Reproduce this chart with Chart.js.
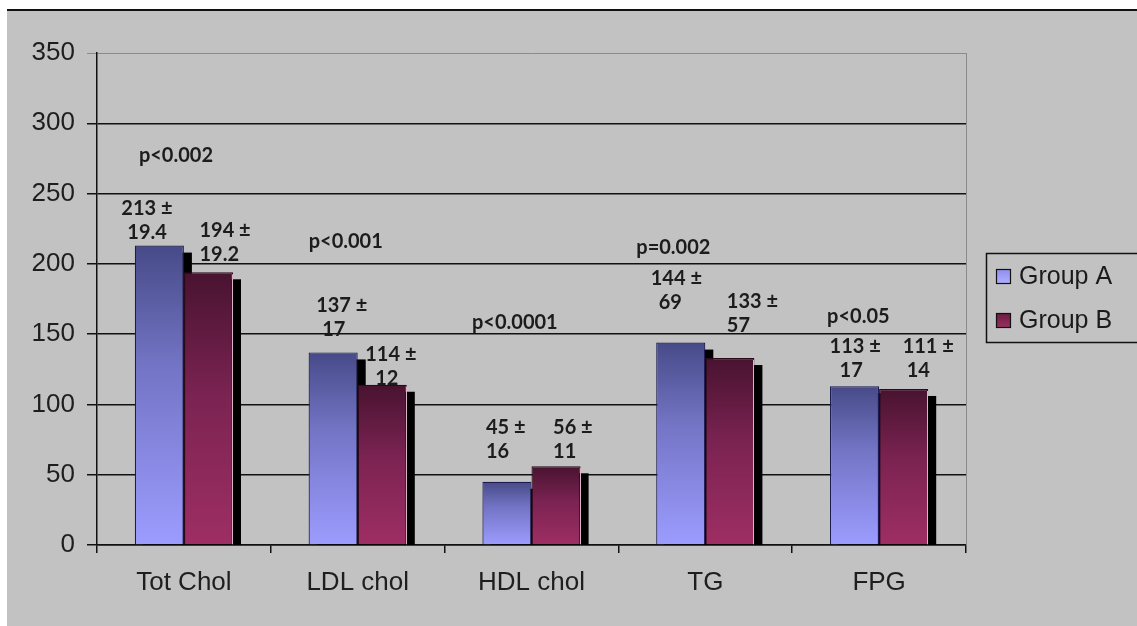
<!DOCTYPE html>
<html><head><meta charset="utf-8">
<script src="https://cdn.jsdelivr.net/npm/chart.js@4/dist/chart.umd.min.js"></script>
<style>html,body{margin:0;padding:0;background:#fff;}canvas{display:block;}</style>
</head><body>
<canvas id="c" width="1137" height="626"></canvas>
<script>
// ---- data ----
const categories = ["Tot Chol", "LDL chol", "HDL chol", "TG", "FPG"];
const seriesNames = ["Group A", "Group B"];
const groupA = [213, 137, 45, 144, 113];
const groupB = [194, 114, 56, 133, 111];
const sdA = ["19.4", "17", "16", "69", "17"];
const sdB = ["19.2", "12", "11", "57", "14"];
const pValues = ["p<0.002", "p<0.001", "p<0.0001", "p=0.002", "p<0.05"];
const yTicks = [0, 50, 100, 150, 200, 250, 300, 350];

// ---- annotation layout (x offset in px from bar / category centre, y in axis units) ----
const layoutA = [{dx:-38,v:239.7,ind:6},{dx:-17,v:170,ind:6},{dx:-21,v:83.9,ind:0},{dx:-30,v:189.2,ind:8},{dx:-25,v:140.9,ind:10}];
const layoutB = [{dx:-9,v:223.4,ind:0},{dx:-17,v:135.2,ind:10},{dx:-3,v:83.9,ind:0},{dx:-3,v:172.9,ind:0},{dx:-1,v:140.9,ind:4}];
const layoutP = [{dx:-45,v:276.7},{dx:-49,v:215.6},{dx:-59.5,v:158.6},{dx:-69,v:211.3},{dx:-52,v:162.2}];

const gradStops = [
  [[0,'#474a88'],[0.4,'#7374c4'],[1,'#9c9cff']],
  [[0,'#481330'],[0.45,'#7b2352'],[1,'#9e2e63']]
];
function barGradient(ctx, di){
  const chart = ctx.chart;
  const ys = chart.scales && chart.scales.y;
  if (!ys || ctx.type !== 'data') return gradStops[di][2][1];
  const top = ys.getPixelForValue(ctx.raw), base = ys.getPixelForValue(0);
  if (!isFinite(top) || !isFinite(base) || top === base) return gradStops[di][2][1];
  const g = chart.ctx.createLinearGradient(0, top, 0, base);
  gradStops[di].forEach(s => g.addColorStop(s[0], s[1]));
  return g;
}

const framePlugin = {
  id: 'frame',
  beforeDraw(chart){
    const c = chart.ctx;
    c.save();
    c.fillStyle = '#fff'; c.fillRect(0,0,chart.width,chart.height);
    c.fillStyle = '#c2c2c2'; c.fillRect(7,11,chart.width-7,chart.height-11);
    c.fillStyle = '#111'; c.fillRect(7,9,chart.width-7,2);
    c.restore();
  },
  beforeDatasetsDraw(chart){
    const c = chart.ctx, a = chart.chartArea;
    c.save();
    c.strokeStyle = '#8a8a8a'; c.lineWidth = 1;
    c.beginPath(); c.moveTo(Math.round(a.right)+0.5, a.top); c.lineTo(Math.round(a.right)+0.5, a.bottom); c.stroke();
    // bar shadows
    const base = chart.scales.y.getPixelForValue(0);
    c.fillStyle = '#000';
    [0,1].forEach(di => {
      chart.getDatasetMeta(di).data.forEach(bar => {
        const l = bar.x - bar.width/2 + 8, t = bar.y + 7;
        c.fillRect(l, t, bar.width, base - t);
      });
    });
    c.restore();
  },
  afterDatasetsDraw(chart){
    const c = chart.ctx, ys = chart.scales.y, xs = chart.scales.x;
    const m0 = chart.getDatasetMeta(0), m1 = chart.getDatasetMeta(1);
    c.save();
    // light right edge on Group B bars
    c.strokeStyle = '#d9b3c6'; c.lineWidth = 1;
    m1.data.forEach(b => {
      const r = Math.round(b.x + b.width/2) - 0.5;
      c.beginPath(); c.moveTo(r, b.y + 2); c.lineTo(r, b.base); c.stroke();
    });
    c.font = 'bold 20px Lato';
    c.fillStyle = '#1c1c1c'; c.textAlign = 'left'; c.textBaseline = 'middle';
    categories.forEach((cat, i) => {
      let L = layoutA[i], b = m0.data[i];
      let x = b.x + L.dx, y = ys.getPixelForValue(L.v);
      c.fillText(groupA[i] + ' \u00b1', x, y);
      c.fillText(sdA[i], x + L.ind, y + 24);
      L = layoutB[i]; b = m1.data[i];
      x = b.x + L.dx; y = ys.getPixelForValue(L.v);
      c.fillText(groupB[i] + ' \u00b1', x, y);
      c.fillText(sdB[i], x + L.ind, y + 24);
      L = layoutP[i];
      c.fillText(pValues[i], xs.getPixelForValue(i) + L.dx, ys.getPixelForValue(L.v));
    });
    c.restore();
  },
  afterDraw(chart){
    const c = chart.ctx;
    c.save();
    c.strokeStyle = '#111'; c.lineWidth = 1.5;
    c.strokeRect(986.5, 253.5, 180, 89);
    c.font = '25px "Liberation Sans", Arial, sans-serif';
    c.textBaseline = 'middle'; c.textAlign = 'left';
    const rows = [276, 320];
    seriesNames.forEach((n, i) => {
      const y = rows[i];
      const g = c.createLinearGradient(0, y-7, 0, y+8);
      if (i === 0) { g.addColorStop(0, '#8e8ef0'); g.addColorStop(1, '#b0b0ff'); }
      else { g.addColorStop(0, '#6a1d42'); g.addColorStop(1, '#9a3060'); }
      c.fillStyle = g;
      c.fillRect(996, y-7, 15, 15);
      c.strokeStyle = '#111'; c.lineWidth = 1.2;
      c.strokeRect(996.5, y-6.5, 14, 14);
      c.fillStyle = '#1a1a1a';
      c.fillText(n, 1019, y + 1);
    });
    c.restore();
  }
};

new Chart(document.getElementById('c'), {
  type: 'bar',
  data: {
    labels: categories,
    datasets: [
      { label: seriesNames[0], data: groupA, backgroundColor: (ctx) => barGradient(ctx, 0),
        borderColor: '#1c1c50', borderWidth: 1.2, borderSkipped: 'bottom',
        categoryPercentage: 0.565, barPercentage: 1 },
      { label: seriesNames[1], data: groupB, backgroundColor: (ctx) => barGradient(ctx, 1),
        borderColor: '#2a0a18', borderWidth: 1.2, borderSkipped: 'bottom',
        categoryPercentage: 0.565, barPercentage: 1 }
    ]
  },
  options: {
    responsive: false,
    animation: false,
    layout: { padding: { left: 0, right: 171, top: 53, bottom: 0 } },
    plugins: { legend: { display: false }, tooltip: { enabled: false } },
    scales: {
      x: {
        grid: { display: true, drawOnChartArea: false, drawTicks: true, tickLength: 8, color: '#111', lineWidth: 1.5, offset: true },
        border: { display: true, color: '#111', width: 1.5 },
        ticks: { color: '#1e1e1e', font: { family: '"Liberation Sans", Arial, sans-serif', size: 26 }, padding: 14, maxRotation: 0 },
        afterFit(s){ s.height = 81; }
      },
      y: {
        min: 0, max: 350,
        afterBuildTicks(s){ s.ticks = yTicks.map(v => ({ value: v })); },
        grid: { color: (ctx) => ctx.tick && ctx.tick.value === 350 ? '#8a8a8a' : '#111', lineWidth: (ctx) => ctx.tick && ctx.tick.value === 350 ? 1 : 1.5, tickLength: 10, drawTicks: true },
        border: { display: true, color: '#111', width: 1.5 },
        ticks: { color: '#1e1e1e', font: { family: '"Liberation Sans", Arial, sans-serif', size: 26 }, padding: 12 },
        afterFit(s){ s.width = 97; }
      }
    }
  },
  plugins: [framePlugin]
});
</script>
</body></html>
